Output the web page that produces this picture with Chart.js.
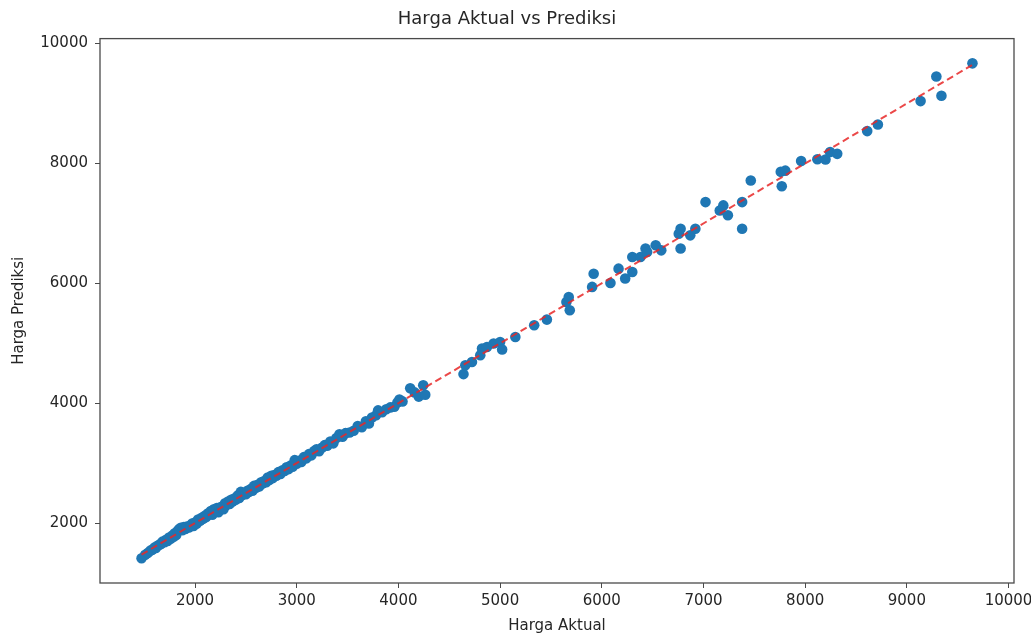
<!DOCTYPE html>
<html>
<head>
<meta charset="utf-8">
<script src="https://cdn.jsdelivr.net/npm/chart.js@4.4.1/dist/chart.umd.min.js"></script>
<style>
  html, body { margin: 0; padding: 0; background: #fff; }
  #wrap { width: 1031px; height: 635px; }
</style>
</head>
<body>
<div id="wrap"><canvas id="scatter-chart"></canvas></div>
<script>
// harga aktual (x) dan harga prediksi (y) per sampel uji
var hargaAktual = [
  1474, 1510, 1535, 1560, 1580, 1600, 1615, 1630, 1650, 1665, 1680, 1700, 1715, 1730, 1745, 1760,
  1775, 1790, 1800, 1815, 1830, 1845, 1860, 1875, 1890, 1905, 1920, 1940, 1955, 1970, 1985, 2000,
  2015, 2030, 2050, 2065, 2080, 2095, 2110, 2125, 2140, 2155, 2170, 2185, 2200, 2215, 2230, 2245,
  2260, 2280, 2295, 2310, 2325, 2340, 2355, 2370, 2385, 2400, 2420, 2435, 2450, 2465, 2480, 2500,
  2515, 2530, 2550, 2565, 2580, 2600, 2615, 2630, 2650, 2665, 2680, 2700, 2715, 2730, 2750, 2765,
  2780, 2800, 2820, 2840, 2860, 2880, 2900, 2920, 2940, 2960, 2980, 3000, 3020, 3045, 3070, 3095,
  3120, 3145, 3170, 3195, 3220, 3250, 3275, 3300, 3330, 3360, 3390, 3420, 3450, 3480, 3520, 3560,
  3600, 3640, 3680, 3710, 3740, 3780, 3800, 3840, 3880, 3920, 3960, 3990, 4010, 4040, 4116, 4160,
  4200, 4244, 4264,
  4640, 4658, 4723, 4805, 4822, 4871, 4936, 5000, 5020, 5150, 5335, 5460, 5652, 5675, 5685, 5905,
  5920, 6085, 6165, 6230, 6300, 6300, 6380, 6430, 6446, 6530, 6585, 6757, 6775, 6775, 6870, 6920,
  7020, 7160, 7195, 7240, 7380, 7380, 7465, 7760, 7770, 7805, 7960, 8120, 8200, 8245, 8315, 8610,
  8715, 9135, 9290, 9340, 9645
];
var hargaPrediksi = [
  1413, 1470, 1500, 1540, 1555, 1590, 1585, 1620, 1640, 1650, 1690, 1680, 1720, 1700, 1760, 1740,
  1790, 1770, 1830, 1800, 1870, 1900, 1920, 1880, 1935, 1900, 1940, 1925, 1960, 1990, 1950, 2010,
  1990, 2060, 2040, 2090, 2070, 2120, 2100, 2160, 2150, 2200, 2140, 2230, 2210, 2250, 2180, 2260,
  2270, 2230, 2330, 2300, 2360, 2320, 2390, 2360, 2410, 2390, 2460, 2420, 2520, 2470, 2500, 2480,
  2540, 2520, 2570, 2540, 2620, 2590, 2640, 2610, 2680, 2660, 2700, 2680, 2760, 2720, 2790, 2750,
  2800, 2790, 2850, 2820, 2880, 2870, 2930, 2900, 2960, 2940, 3050, 2990, 3040, 3020, 3100, 3080,
  3150, 3130, 3200, 3230, 3200, 3260, 3300, 3290, 3360, 3330, 3420, 3480, 3440, 3500, 3510, 3540,
  3620, 3600, 3700, 3660, 3760, 3800, 3880, 3850, 3900, 3930, 3940, 4010, 4060, 4030, 4250, 4180,
  4110, 4300, 4140,
  4485, 4633, 4688, 4800, 4912, 4938, 4995, 5020, 4895, 5105, 5300, 5395, 5688, 5770, 5550, 5940,
  6160, 6005, 6245, 6080, 6440, 6190, 6438, 6580, 6522, 6635, 6550, 6828, 6910, 6580, 6800, 6910,
  7355, 7215, 7300, 7135, 7355, 6910, 7715, 7860, 7620, 7880, 8040, 8070, 8065, 8190, 8160, 8540,
  8650, 9040, 9450, 9130, 9670
];

// garis ideal y = x dari harga minimum ke maksimum
var garisIdeal = [Math.min.apply(null, hargaAktual), Math.max.apply(null, hargaAktual)];

var xTicks = [2000, 3000, 4000, 5000, 6000, 7000, 8000, 9000, 10000];
var yTicks = [2000, 4000, 6000, 8000, 10000];

var titikScatter = hargaAktual.map(function (v, i) { return { x: v, y: hargaPrediksi[i] }; });
var titikGaris = garisIdeal.map(function (v) { return { x: v, y: v }; });

// margin 5% seperti autoscale matplotlib
function rentang(arr) {
  var lo = Math.min.apply(null, arr), hi = Math.max.apply(null, arr);
  var pad = (hi - lo) * 0.05;
  return [lo - pad, hi + pad];
}
var xRange = rentang(hargaAktual.concat(garisIdeal));
var yRange = rentang(hargaPrediksi.concat(garisIdeal));

var fontFamily = "'DejaVu Sans', sans-serif";
var textColor = '#262626';
var axisColor = '#4a4a4a';

// kotak bingkai di sekeliling area plot
var bingkai = {
  id: 'bingkai',
  afterDraw: function (chart) {
    var a = chart.chartArea, c = chart.ctx;
    c.save();
    c.strokeStyle = axisColor;
    c.lineWidth = 1.3;
    c.strokeRect(a.left, a.top, a.right - a.left, a.bottom - a.top);
    c.restore();
  }
};

var ctx = document.getElementById('scatter-chart').getContext('2d');

var myChart = new Chart(ctx, {
  type: 'scatter',
  data: {
    datasets: [
      {
        type: 'line',
        label: 'Ideal',
        data: titikGaris,
        borderColor: 'rgba(232, 40, 40, 0.85)',
        borderWidth: 2,
        borderDash: [7, 4],
        pointRadius: 0,
        fill: false,
        order: 0
      },
      {
        label: 'Prediksi',
        data: titikScatter,
        backgroundColor: '#1f77b4',
        borderWidth: 0,
        pointRadius: 5.3,
        pointHoverRadius: 5.3,
        order: 1
      }
    ]
  },
  options: {
    responsive: true,
    maintainAspectRatio: false,
    animation: false,
    layout: { padding: { left: 0, right: 17, top: 0, bottom: 0 } },
    plugins: {
      legend: { display: false },
      tooltip: { enabled: false },
      title: {
        display: true,
        text: 'Harga Aktual vs Prediksi',
        color: textColor,
        font: { family: fontFamily, size: 18, weight: 'normal' },
        padding: { top: 9, bottom: 8 }
      }
    },
    scales: {
      x: {
        type: 'linear',
        min: xRange[0],
        max: xRange[1],
        afterBuildTicks: function (scale) {
          scale.ticks = xTicks.map(function (v) { return { value: v }; });
        },
        afterFit: function (scale) {
          scale.height = 52;
          scale.paddingLeft = 0;
          scale.paddingRight = 0;
        },
        grid: { display: true, drawOnChartArea: false, drawTicks: true, tickLength: 5, color: axisColor },
        border: { display: false },
        ticks: {
          color: textColor,
          padding: 4,
          maxRotation: 0,
          font: { family: fontFamily, size: 15 },
          callback: function (v) { return String(v); }
        },
        title: {
          display: true,
          text: 'Harga Aktual',
          color: textColor,
          font: { family: fontFamily, size: 15 },
          padding: { top: 2, bottom: 0 }
        }
      },
      y: {
        type: 'linear',
        min: yRange[0],
        max: yRange[1],
        afterBuildTicks: function (scale) {
          scale.ticks = yTicks.map(function (v) { return { value: v }; });
        },
        afterFit: function (scale) { scale.width = 100; },
        grid: { display: true, drawOnChartArea: false, drawTicks: true, tickLength: 5, color: axisColor },
        border: { display: false },
        ticks: {
          color: textColor,
          padding: 7,
          font: { family: fontFamily, size: 15 },
          callback: function (v) { return String(v); }
        },
        title: {
          display: true,
          text: 'Harga Prediksi',
          color: textColor,
          font: { family: fontFamily, size: 15 },
          padding: { top: 10, bottom: 4 }
        }
      }
    }
  },
  plugins: [bingkai]
});
</script>
</body>
</html>
